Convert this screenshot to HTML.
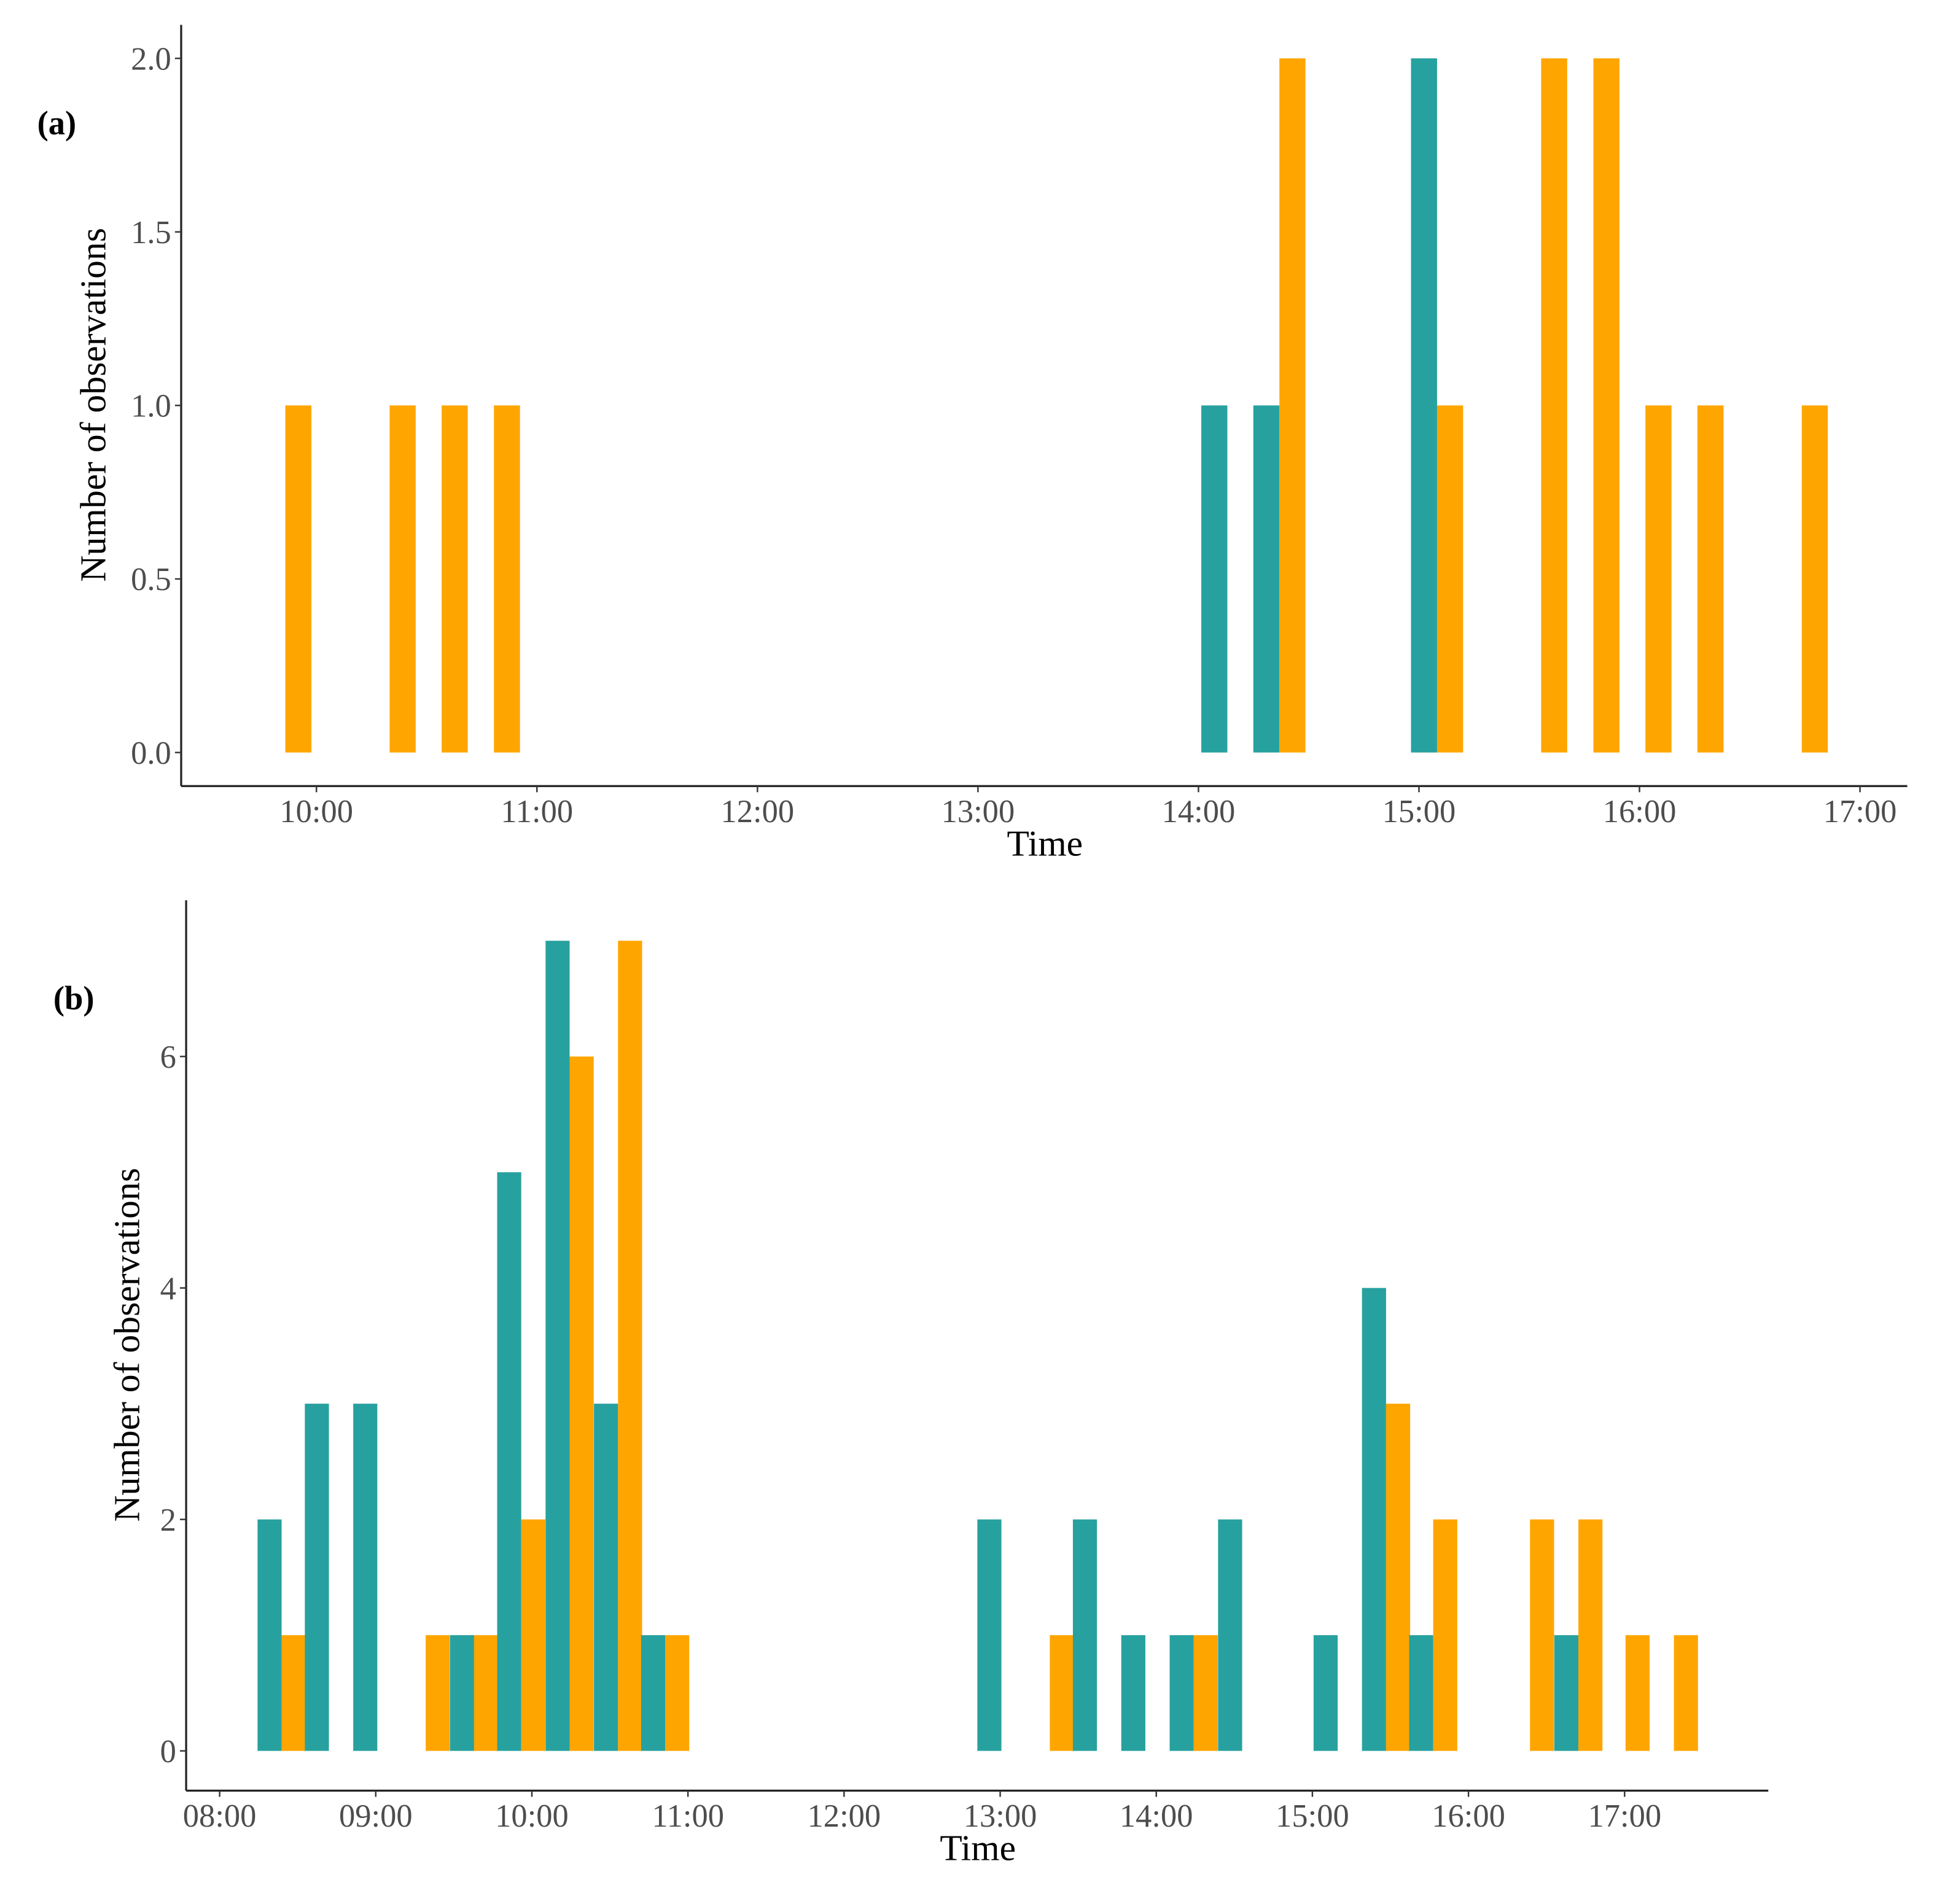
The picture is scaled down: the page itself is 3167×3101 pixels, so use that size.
<!DOCTYPE html>
<html><head><meta charset="utf-8"><style>
html,body{margin:0;padding:0;background:#fff;}
svg{display:block;}
text{font-family:"Liberation Serif",serif;}
</style></head><body>
<svg id="chart" width="3167" height="3101" viewBox="0 0 1567.4 1533.3" preserveAspectRatio="none" xmlns="http://www.w3.org/2000/svg">
<g id="pa"></g>
<g id="pb"></g>
</svg>
<script>
const aBins=[9.859,10.332,10.568,10.805,14.131,14.367,15.082,15.554,15.791,16.027,16.263,16.736];
const aTeal=[0,0,0,0,1,1,2,0,0,0,0,0];
const aOrange=[1,1,1,1,0,2,1,2,2,1,1,1];
const aYTicks=[0,0.5,1,1.5,2];
const aYLabels=["0.0","0.5","1.0","1.5","2.0"];
const aXTicks=[10,11,12,13,14,15,16,17];
const aXLabels=["10:00","11:00","12:00","13:00","14:00","15:00","16:00","17:00"];

const bBins=[8.397,8.700,9.010,9.320,9.630,9.932,10.242,10.552,10.854,13.008,13.318,13.620,13.930,14.240,14.550,15.162,15.472,15.774,16.394,16.704,17.006,17.316];
const bTeal=[2,3,3,0,1,5,7,3,1,2,0,2,1,1,2,1,4,1,0,1,0,0];
const bOrange=[1,0,0,1,1,2,6,7,1,0,1,0,0,1,0,0,3,2,2,2,1,1];
const bYTicks=[0,2,4,6];
const bYLabels=["0","2","4","6"];
const bXTicks=[8,9,10,11,12,13,14,15,16,17];
const bXLabels=["08:00","09:00","10:00","11:00","12:00","13:00","14:00","15:00","16:00","17:00"];

const NS="http://www.w3.org/2000/svg";
function mk(parent,tag,attrs,txt){const e=document.createElementNS(NS,tag);for(const k in attrs)e.setAttribute(k,attrs[k]);if(txt!==undefined)e.textContent=txt;parent.appendChild(e);return e;}

function panel(g,cfg){
  const xs=h=>cfg.x0+(h-cfg.h0)*cfg.pxh;
  const ys=v=>cfg.y0-v*cfg.pxv;
  const half=cfg.bw/2;
  cfg.bins.forEach((h,i)=>{
    const c=xs(h);
    if(cfg.teal[i]>0){
      const r=mk(g,'rect',{x:c-half,y:ys(cfg.teal[i]),width:half,height:cfg.teal[i]*cfg.pxv,fill:'#27a19f'});
      
      
    }
    if(cfg.orange[i]>0){
      const r=mk(g,'rect',{x:c,y:ys(cfg.orange[i]),width:half,height:cfg.orange[i]*cfg.pxv,fill:'#ffa500'});
      
      
    }
  });
  const ya=mk(g,'line',{x1:cfg.ax,y1:cfg.top,x2:cfg.ax,y2:cfg.ay,stroke:'#222','stroke-width':1.6});
  
  
  const xa=mk(g,'line',{x1:cfg.ax,y1:cfg.ay,x2:cfg.right,y2:cfg.ay,stroke:'#222','stroke-width':1.6});
  
  
  cfg.yt.forEach((v,i)=>{
    mk(g,'line',{x1:cfg.ax-5,y1:ys(v),x2:cfg.ax,y2:ys(v),stroke:'#333','stroke-width':1.2});
    const t=mk(g,'text',{x:cfg.ax-8,y:ys(v)+9,'text-anchor':'end','font-size':26,fill:'#4d4d4d'},cfg.yl[i]);
    
    
  });
  cfg.xt.forEach((h,i)=>{
    mk(g,'line',{x1:xs(h),y1:cfg.ay,x2:xs(h),y2:cfg.ay+5,stroke:'#333','stroke-width':1.2});
    const t=mk(g,'text',{x:xs(h),y:cfg.ay+29,'text-anchor':'middle','font-size':26,fill:'#4d4d4d'},cfg.xl[i]);
    
    
  });
  const xt=mk(g,'text',{x:cfg.xtx,y:cfg.ay+56,'text-anchor':'middle','font-size':29.5,fill:'#000'},'Time');
  
  
  const yt=mk(g,'text',{x:0,y:0,'text-anchor':'middle','font-size':29.5,fill:'#000',transform:`translate(${cfg.ytx},${cfg.yty}) rotate(-90)`},'Number of observations');
  
  
  const pl=mk(g,'text',{x:cfg.plx,y:cfg.ply,'font-size':27,'font-weight':'bold',fill:'#000'},cfg.label);
  
  
}

panel(document.getElementById('pa'),{bins:aBins,teal:aTeal,orange:aOrange,yt:aYTicks,yl:aYLabels,xt:aXTicks,xl:aXLabels,
  x0:255,h0:10,pxh:177.7,y0:606,pxv:279.5,bw:42,ax:146,ay:633,top:20,right:1537,xtx:842,ytx:85,yty:326,plx:30,ply:108,label:'(a)'});
panel(document.getElementById('pb'),{bins:bBins,teal:bTeal,orange:bOrange,yt:bYTicks,yl:bYLabels,xt:bXTicks,xl:bXLabels,
  x0:177,h0:8,pxh:125.8,y0:1410,pxv:93.2,bw:38.8,ax:150,ay:1442,top:725,right:1425,xtx:788,ytx:112,yty:1083,plx:43,ply:813,label:'(b)'});
</script>
</body></html>
